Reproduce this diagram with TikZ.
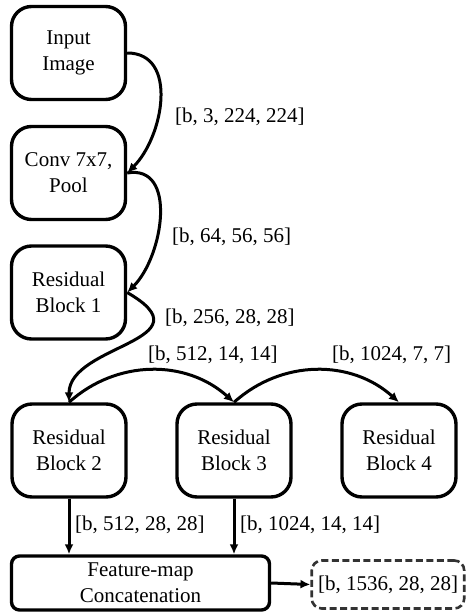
\documentclass[tikz,border=0pt]{standalone}
\usepackage{fontspec}
\setmainfont{Liberation Serif}
\usetikzlibrary{arrows.meta}

\begin{document}
\begin{tikzpicture}[x=1pt,y=1pt,
    font=\fontsize{21}{26}\selectfont,
    block/.style={draw=black,line width=3.4pt,rounded corners=20pt,minimum width=114pt,minimum height=93pt,align=center,inner sep=0pt},
    dims/.style={anchor=west,inner sep=0pt},
    flow/.style={line width=3pt,-{Latex[length=10pt,width=9pt]}}]
    \useasboundingbox (0,0) rectangle (467,-613);
    \node[block] (input) at (68.5,-53) {Input\\Image};
    \node[block] (conv) at (68.5,-173) {Conv 7x7,\\Pool};
    \node[block] (rb1) at (68.5,-292.5) {Residual\\Block 1};
    \foreach \name/\x/\num in {rb2/69/2, rb3/234/3, rb4/399/4}
    {
        \node[block] (\name) at (\x,-450.5) {Residual\\Block \num};
    }
    \node[block,rounded corners=8pt,minimum width=258pt,minimum height=54pt] (concat) at (140.5,-583) {Feature-map\\Concatenation};
    \node[draw=black!80,line width=2.6pt,dash pattern=on 7pt off 3.5pt,rounded corners=10pt,minimum width=152.5pt,minimum height=48pt,inner sep=0pt] (result) at (388,-584.5) {[b, 1536, 28, 28]};
    \draw[flow] (input.east) to[out=0,in=45,looseness=1.1] (conv.east);
    \draw[flow] (conv.east) to[out=10,in=45,looseness=1.1] (rb1.east);
    \draw[flow] (rb1.east) to[out=-30,in=90,out looseness=2,in looseness=1.2] (rb2.north);
    \draw[flow] (rb2.north) to[out=42,in=138] (rb3.north);
    \draw[flow] (rb3.north) to[out=42,in=138] (rb4.north);
    \draw[flow] (rb2.south) -- (rb2.south |- concat.north);
    \draw[flow] (rb3.south) -- (rb3.south |- concat.north);
    \draw[flow] (concat.east) -- (result.west);
    \node[dims] (d1) at (175,-117) {[b, 3, 224, 224]};
    \node[dims] (d2) at (172,-237) {[b, 64, 56, 56]};
    \node[dims] (d3) at (165,-318) {[b, 256, 28, 28]};
    \node[dims] (d4) at (148,-355) {[b, 512, 14, 14]};
    \node[dims] (d5) at (332,-355) {[b, 1024, 7, 7]};
    \node[dims] (d6) at (75,-525) {[b, 512, 28, 28]};
    \node[dims] (d7) at (240,-525) {[b, 1024, 14, 14]};
\end{tikzpicture}
\end{document}
